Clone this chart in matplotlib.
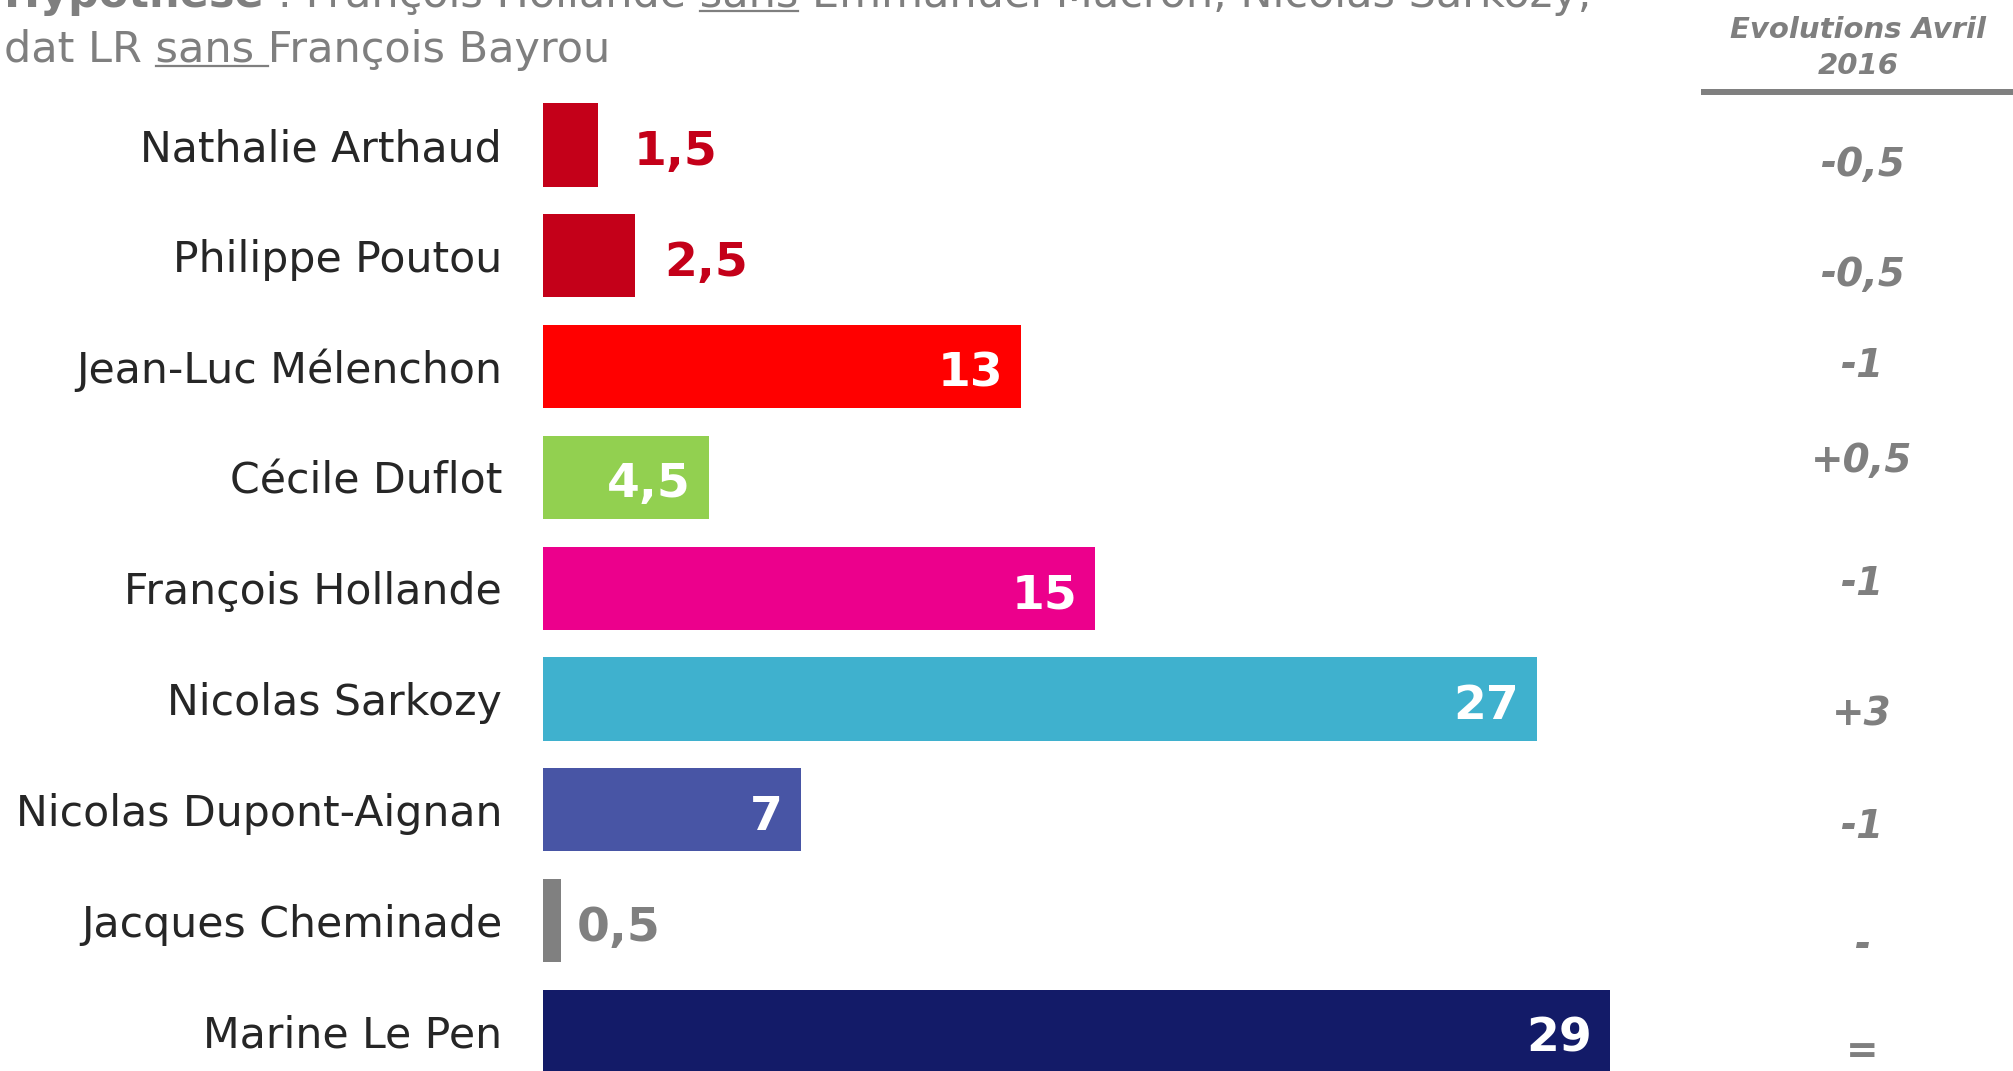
import matplotlib
matplotlib.use("Agg")
import matplotlib.pyplot as plt
from matplotlib.lines import Line2D
from matplotlib.transforms import offset_copy

# ---------------- data ----------------
candidates = ["Nathalie Arthaud", "Philippe Poutou", "Jean-Luc Mélenchon", "Cécile Duflot",
              "François Hollande", "Nicolas Sarkozy", "Nicolas Dupont-Aignan",
              "Jacques Cheminade", "Marine Le Pen"]
scores = [1.5, 2.5, 13, 4.5, 15, 27, 7, 0.5, 29]
score_labels = ["1,5", "2,5", "13", "4,5", "15", "27", "7", "0,5", "29"]
evolutions = ["-0,5", "-0,5", "-1", "+0,5", "-1", "+3", "-1", "-", "="]
bar_colors = ["#C40019", "#C40019", "#FF0000", "#92D050", "#EC008C",
              "#3FB1CE", "#4855A5", "#808080", "#131B68"]
label_inside = [False, False, True, True, True, True, True, False, True]
header = ["Evolutions Avril", "2016"]
title_line1 = [("Hypothèse", "bold"), (" : François Hollande sans Emmanuel Macron, Nicolas Sarkozy,", "normal")]
title_line2 = "dat LR sans François Bayrou"

# ---------------- layout ----------------
W, H = 2013, 1071
DPI = 100
fig = plt.figure(figsize=(W / DPI, H / DPI), dpi=DPI)
ax = fig.add_axes([0, 0, 1, 1])
ax.set_axis_off()

x0_px, unit_px = 543, 36.8
row0_px, row_px = 145, 110.8
ax.set_xlim(-x0_px / unit_px, (W - x0_px) / unit_px)
ax.set_ylim((H - row0_px) / row_px, -row0_px / row_px)

GRAY = "#7F7F7F"
NAME_C = "#262626"

ypos = list(range(len(candidates)))
ax.barh(ypos, scores, height=0.75, color=bar_colors, linewidth=0)

outside_gap = [35, 29, 0, 0, 0, 0, 0, 15, 0]
for i, (name, val, lab, col, inside) in enumerate(zip(candidates, scores, score_labels,
                                                      bar_colors, label_inside)):
    tr_name = offset_copy(ax.transData, fig=fig, x=-41, y=-16, units="dots")
    ax.text(0, i, name, transform=tr_name, ha="right", va="baseline",
            fontsize=30.7, color=NAME_C, family="DejaVu Sans")
    if inside:
        tr = offset_copy(ax.transData, fig=fig, x=-18, y=-20, units="dots")
        ax.text(val, i, lab, transform=tr, ha="right", va="baseline",
                fontsize=34, fontweight="bold", color="white")
    else:
        tr = offset_copy(ax.transData, fig=fig, x=outside_gap[i], y=-20, units="dots")
        ax.text(val, i, lab, transform=tr, ha="left", va="baseline",
                fontsize=34, fontweight="bold", color=col)

# evolution column
evo_baseline_off = [31, 30, 10, -5, 7, 27, 28, 36, 32]
evo_x = 1862
for i, (ev, off) in enumerate(zip(evolutions, evo_baseline_off)):
    ybase = row0_px + i * row_px + off
    fig.text(evo_x / W, 1 - ybase / H, ev, ha="center", va="baseline",
             fontsize=28, fontweight="bold", fontstyle="italic", color=GRAY)

fig.text(1858 / W, 1 - 38 / H, header[0], ha="center", va="baseline",
         fontsize=21, fontweight="bold", fontstyle="italic", color=GRAY)
fig.text(1858 / W, 1 - 74 / H, header[1], ha="center", va="baseline",
         fontsize=21, fontweight="bold", fontstyle="italic", color=GRAY)
fig.add_artist(Line2D([1701 / W, 1.0], [1 - 92 / H, 1 - 92 / H], transform=fig.transFigure,
                      color=GRAY, linewidth=4.3, solid_capstyle="butt"))

# title
fig.canvas.draw()
r = fig.canvas.get_renderer()
TS = 31


def twidth(s, weight="normal", size=TS):
    t = fig.text(0, 0, s, fontsize=size, fontweight=weight)
    w = t.get_window_extent(renderer=r).width
    t.remove()
    return w


def underline(xa, xb, ybase_px):
    y = 1 - (ybase_px + 4) / H
    fig.add_artist(Line2D([xa / W, xb / W], [y, y], transform=fig.transFigure,
                          color=GRAY, linewidth=1.6))


# line 1
base1 = 7
x = 4
bold_txt = title_line1[0][0]
t = fig.text(x / W, 1 - base1 / H, bold_txt, fontsize=TS, fontweight="bold",
             color=GRAY, va="baseline")
x = t.get_window_extent(renderer=r).x1
reg_txt = title_line1[1][0]
fig.text(x / W, 1 - base1 / H, reg_txt, fontsize=TS, color=GRAY, va="baseline")
k = reg_txt.index("sans")
sx = x + twidth(reg_txt[:k] + "s") - twidth("s")
underline(sx, sx + twidth("sans"), base1)

# line 2
base2 = 62
x = 4
fig.text(x / W, 1 - base2 / H, title_line2, fontsize=TS, color=GRAY, va="baseline")
k = title_line2.index("sans")
sx = x + twidth(title_line2[:k] + "s") - twidth("s")
ex = x + twidth(title_line2[:k + 5] + "F") - twidth("F")
underline(sx, ex, base2)

fig.savefig("out.png", dpi=DPI)
